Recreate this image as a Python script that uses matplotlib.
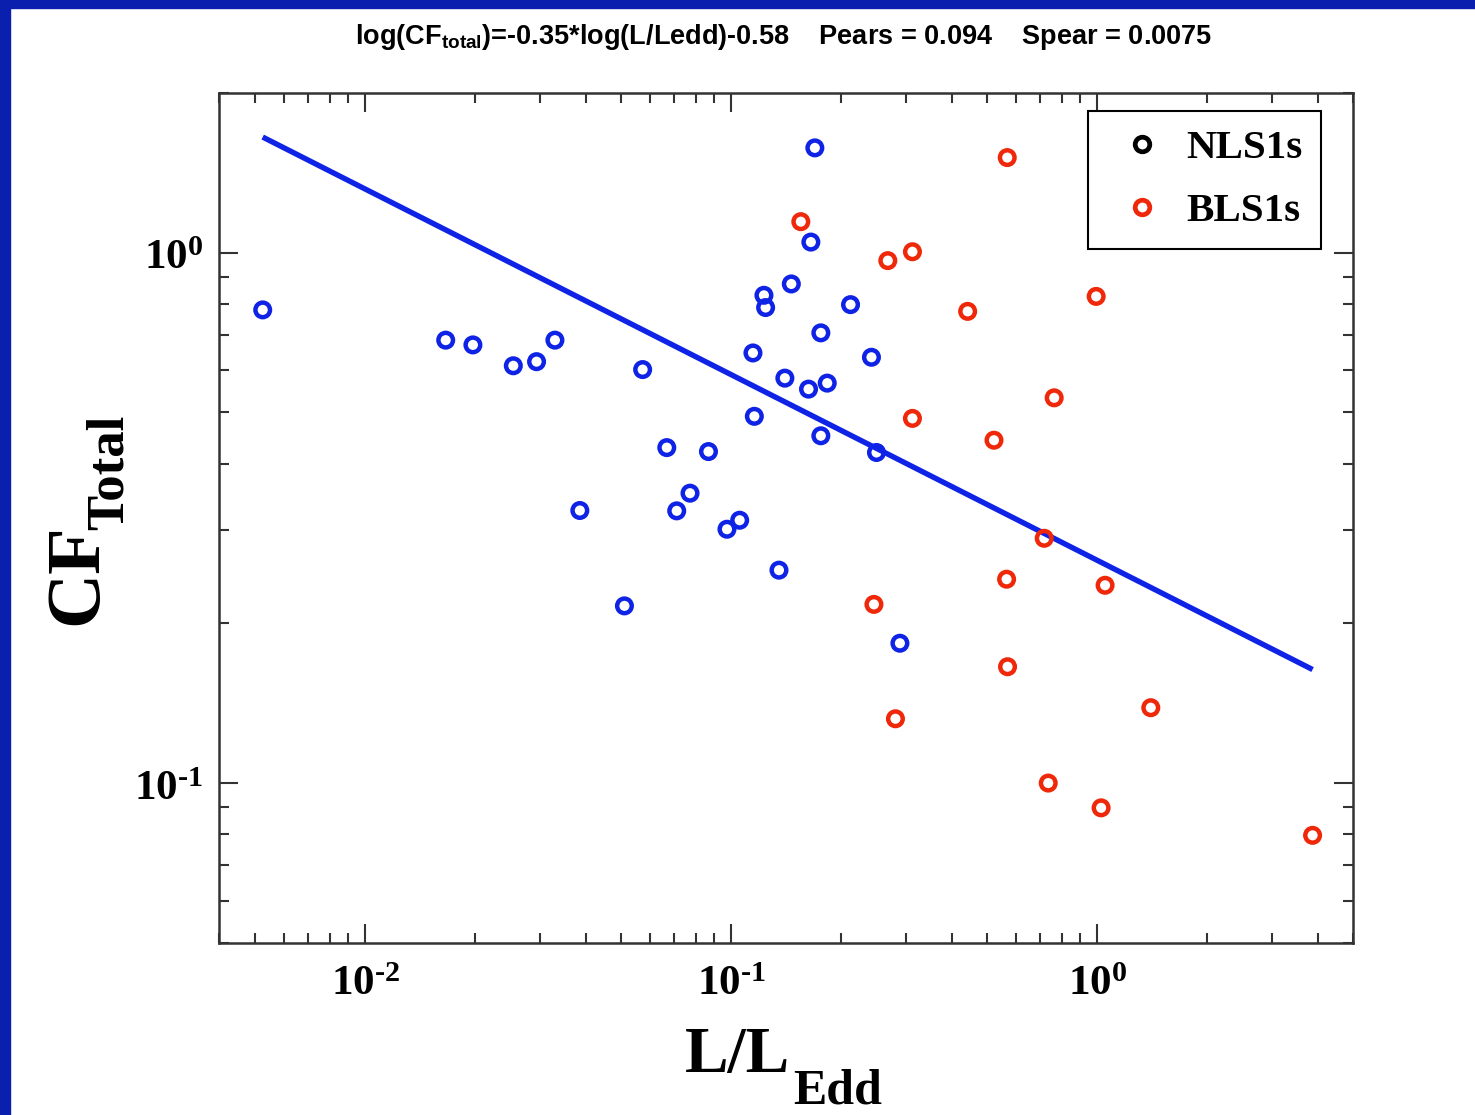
import numpy as np
import matplotlib
matplotlib.use("Agg")
import matplotlib.pyplot as plt
from matplotlib.lines import Line2D
from matplotlib.patches import Rectangle
from matplotlib.ticker import LogLocator, FixedLocator, FixedFormatter, NullFormatter

plt.rcParams['mathtext.fontset'] = 'custom'
plt.rcParams['mathtext.rm'] = 'Liberation Serif'
plt.rcParams['mathtext.bf'] = 'Liberation Serif:bold'
plt.rcParams['mathtext.sf'] = 'Liberation Sans:bold'

# L/Ledd and CF_total for the NLS1s (blue) and BLS1s (red)
nls_x = [0.00525, 0.0166, 0.0197, 0.0254, 0.0294, 0.0330, 0.0386, 0.0511,
         0.0573, 0.0667, 0.0710, 0.0772, 0.0867, 0.0974, 0.1055, 0.1147,
         0.1157, 0.1229, 0.1242, 0.1351, 0.1402, 0.1460, 0.1627, 0.1651,
         0.1693, 0.1758, 0.1758, 0.1830, 0.2119, 0.2417, 0.2495, 0.2891]
nls_y = [0.780, 0.684, 0.670, 0.612, 0.623, 0.684, 0.3265, 0.2158,
         0.602, 0.429, 0.326, 0.352, 0.4217, 0.301, 0.313, 0.647,
         0.4914, 0.831, 0.788, 0.252, 0.580, 0.873, 0.553, 1.047,
         1.576, 0.706, 0.4516, 0.5676, 0.798, 0.635, 0.420, 0.1835]

bls_x = [0.1550, 0.2455, 0.2679, 0.2811, 0.3128, 0.3128, 0.4427, 0.5225,
         0.5656, 0.5679, 0.569, 0.7166, 0.735, 0.763, 0.9937, 1.025,
         1.051, 1.401, 3.877]
bls_y = [1.144, 0.2172, 0.966, 0.1322, 1.004, 0.487, 0.775, 0.443,
         0.2423, 1.511, 0.1657, 0.2894, 0.100, 0.5325, 0.827, 0.0898,
         0.236, 0.1387, 0.0797]

slope = -0.35
icpt = -0.58

blue = '#0f23e6'
red = '#f0280a'

W, H = 1475, 1115
fig = plt.figure(figsize=(W / 100, H / 100), dpi=100)
fig.patch.set_facecolor('white')
fig.add_artist(Rectangle((0, 0), 10 / W, 1, transform=fig.transFigure,
                         color='#0b1fae', zorder=10))
fig.add_artist(Rectangle((0, 1 - 8 / H), 1, 8 / H, transform=fig.transFigure,
                         color='#0b1fae', zorder=10))

ax = fig.add_axes([0.1488, 0.1545, 0.7685, 0.7621])
ax.set_xscale('log')
ax.set_yscale('log')
ax.set_xlim(0.004, 5)
ax.set_ylim(0.05, 2)

ax.scatter(nls_x, nls_y, s=10.5**2, facecolors='none', edgecolors=blue,
           linewidths=3.2, zorder=3)
ax.scatter(bls_x, bls_y, s=10.5**2, facecolors='none', edgecolors=red,
           linewidths=3.2, zorder=3)

allx = np.array(nls_x + bls_x)
fx = np.array([allx.min(), allx.max()])
fy = 10 ** (slope * np.log10(fx) + icpt)
ax.plot(fx, fy, color=blue, lw=3.9, solid_capstyle='butt', zorder=2)

# ticks
hy = '\u2010'
ax.xaxis.set_major_locator(FixedLocator([0.01, 0.1, 1]))
ax.xaxis.set_major_formatter(FixedFormatter([r'$\mathbf{10^{%s2}}$' % hy,
                                             r'$\mathbf{10^{%s1}}$' % hy,
                                             r'$\mathbf{10^{0}}$']))
ax.yaxis.set_major_locator(FixedLocator([0.1, 1]))
ax.yaxis.set_major_formatter(FixedFormatter([r'$\mathbf{10^{%s1}}$' % hy,
                                             r'$\mathbf{10^{0}}$']))
ax.xaxis.set_minor_locator(LogLocator(base=10, subs=np.arange(2, 10)))
ax.yaxis.set_minor_locator(LogLocator(base=10, subs=np.arange(2, 10)))
ax.xaxis.set_minor_formatter(NullFormatter())
ax.yaxis.set_minor_formatter(NullFormatter())
ax.tick_params(which='both', direction='in', top=True, right=True,
               color='#333333', width=1.5)
ax.tick_params(which='major', length=14, labelsize=31)
ax.tick_params(which='minor', length=7)
ax.tick_params(axis='x', which='major', pad=14)
ax.tick_params(axis='y', which='major', pad=12)
for sp in ax.spines.values():
    sp.set_linewidth(1.8)
    sp.set_color('#333333')

# axis labels with a deep subscript, placed in pixel positions
serif = {'family': 'Liberation Serif', 'weight': 'bold'}
fig.text(790 / W, 1 - 1072 / H, 'L/L', ha='right', va='baseline', fontsize=47, **serif)
fig.text(793 / W, 1 - 1103 / H, 'Edd', ha='left', va='baseline', fontsize=36, **serif)
fig.text(96 / W, 1 - 625 / H, 'CF', ha='left', va='baseline', rotation=90,
         rotation_mode='anchor', fontsize=55, **serif)
fig.text(123 / W, 1 - 530 / H, 'Total', ha='left', va='baseline', rotation=90,
         rotation_mode='anchor', fontsize=38, **serif)

fig.text(784 / W, 1 - 37 / H,
         r'log(CF$_{\mathsf{total}}$)=-0.35*log(L/Ledd)-0.58    Pears = 0.094    Spear = 0.0075',
         ha='center', va='center', fontsize=19.5, fontweight='bold',
         family='Liberation Sans')

handles = [Line2D([], [], ls='none', marker='o', ms=10.5, mew=3.4, mfc='none', mec='black'),
           Line2D([], [], ls='none', marker='o', ms=10.5, mew=3.4, mfc='none', mec=red)]
leg = ax.legend(handles, ['NLS1s', 'BLS1s'], loc='upper right',
                bbox_to_anchor=(0.9718, 0.9788), borderaxespad=0,
                prop={'family': 'Liberation Serif', 'weight': 'bold', 'size': 29.5},
                fancybox=False, framealpha=1, edgecolor='black',
                handlelength=1.75, handletextpad=0.2, borderpad=0.45,
                labelspacing=0.62)
leg.get_frame().set_linewidth(1.5)

fig.savefig('out.png', dpi=100)
